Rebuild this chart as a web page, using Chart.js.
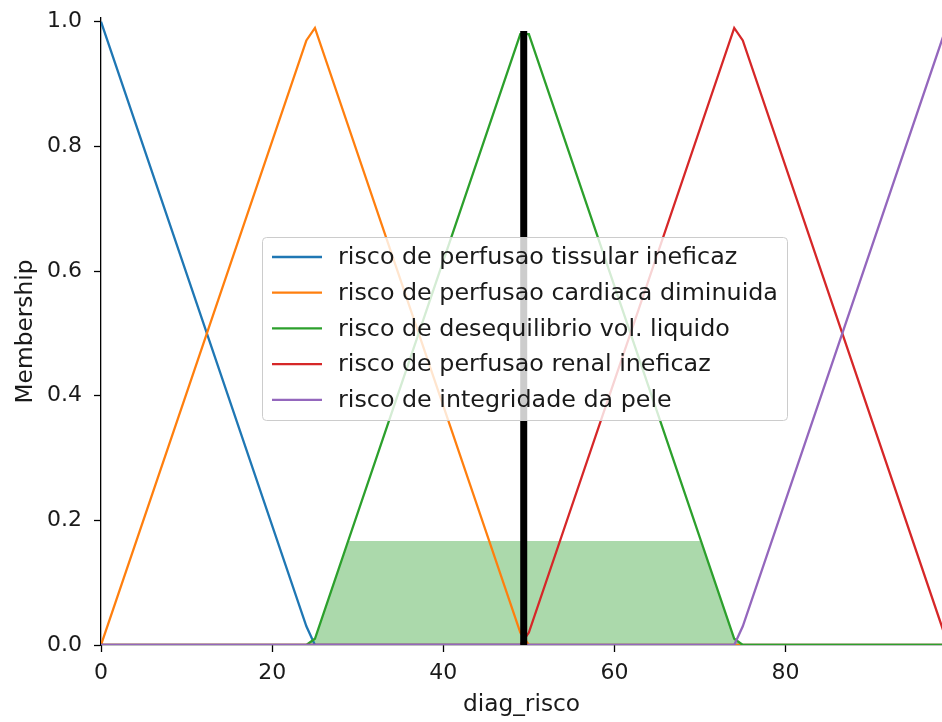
<!DOCTYPE html>
<html>
<head>
<meta charset="utf-8">
<script src="https://cdn.jsdelivr.net/npm/chart.js@4.4.1/dist/chart.umd.min.js"></script>
<style>
  html, body { margin: 0; padding: 0; background: #fff; overflow: hidden; }
  canvas { display: block; }
</style>
</head>
<body>
<canvas id="grafica" width="942" height="722"></canvas>
<script>
// termos de saida (diag_risco)
const nomes = [
  'risco de perfusao tissular ineficaz',
  'risco de perfusao cardiaca diminuida',
  'risco de desequilibrio vol. liquido',
  'risco de perfusao renal ineficaz',
  'risco de integridade da pele'
];
const cores = ['#1f77b4', '#ff7f0e', '#2ca02c', '#d62728', '#9467bd'];

// vertices
const tissularX = [0, 24, 25, 99];
const tissularY = [1, 0.03, 0, 0];
const cardiacaX = [0, 24, 25, 49, 50, 99];
const cardiacaY = [0, 0.97, 0.99, 0.02, 0, 0];
const desequilX = [0, 24, 25, 49, 50, 74, 75, 99];
const desequilY = [0, 0, 0.01, 0.98, 0.98, 0.01, 0, 0];
const renalX = [0, 49, 50, 74, 75, 99];
const renalY = [0, 0, 0.02, 0.99, 0.97, 0];
const peleX = [0, 74, 75, 99];
const peleY = [0, 0, 0.03, 1];

// area agregada (ativacao) e valor defuzzificado
const agregadoX = [0, 24, 25, 28, 29, 70, 71, 74, 75, 99];
const agregadoY = [0, 0, 0.01, 0.13, 0.167, 0.167, 0.13, 0.01, 0, 0];
const saidaX = [49.4, 49.4];
const saidaY = [0, 0.985];

const xTicks = [0, 20, 40, 60, 80];
const yTicks = [0, 0.2, 0.4, 0.6, 0.8, 1.0];

const pontos = (xs, ys) => xs.map((x, i) => ({ x: x, y: ys[i] }));
const series = [
  pontos(tissularX, tissularY),
  pontos(cardiacaX, cardiacaY),
  pontos(desequilX, desequilY),
  pontos(renalX, renalY),
  pontos(peleX, peleY)
];

const fonte = { family: 'DejaVu Sans', size: 22 };
const fonteTitulo = { family: 'DejaVu Sans', size: 23.3 };

const datasets = series.map((d, i) => ({
  label: nomes[i],
  data: d,
  borderColor: cores[i],
  borderWidth: 2.3,
  pointRadius: 0,
  tension: 0,
  fill: false,
  order: 5 - i
}));
datasets.push({
  label: 'agregado',
  data: pontos(agregadoX, agregadoY),
  borderWidth: 0,
  borderColor: 'rgba(0,0,0,0)',
  backgroundColor: 'rgba(44,160,44,0.4)',
  pointRadius: 0,
  fill: 'origin',
  order: 10
});
datasets.push({
  label: 'saida',
  data: pontos(saidaX, saidaY),
  borderColor: '#000',
  borderWidth: 7,
  borderCapStyle: 'butt',
  pointRadius: 0,
  fill: false,
  order: 0
});

const legendaBox = {
  id: 'legendaBox',
  afterDraw(chart) {
    const ctx = chart.ctx;
    ctx.save();
    ctx.beginPath();
    ctx.roundRect(262.5, 237.5, 525, 183, 4);
    ctx.fillStyle = 'rgba(255,255,255,0.8)';
    ctx.fill();
    ctx.strokeStyle = '#cccccc';
    ctx.lineWidth = 1;
    ctx.stroke();
    ctx.font = '23.8px "DejaVu Sans"';
    ctx.textBaseline = 'middle';
    nomes.forEach((nome, i) => {
      const y = 257 + i * 35.7;
      ctx.beginPath();
      ctx.moveTo(272, y);
      ctx.lineTo(322, y);
      ctx.strokeStyle = cores[i];
      ctx.lineWidth = 2.3;
      ctx.stroke();
      ctx.fillStyle = '#1a1a1a';
      ctx.fillText(nome, 338, y + 1);
    });
    ctx.restore();
  }
};

new Chart(document.getElementById('grafica'), {
  type: 'line',
  data: { datasets: datasets },
  options: {
    responsive: false,
    animation: false,
    devicePixelRatio: 1,
    layout: { padding: { top: 18, right: 0, left: 0, bottom: 0 } },
    plugins: {
      legend: { display: false },
      tooltip: { enabled: false }
    },
    scales: {
      x: {
        type: 'linear',
        min: 0,
        max: 98.28,
        afterBuildTicks: (s) => { s.ticks = xTicks.map(v => ({ value: v })); },
        afterFit: (s) => { s.height = 77; s.paddingLeft = 0; s.paddingRight = 0; },
        grid: { drawOnChartArea: false, drawTicks: true, tickLength: 7, tickWidth: 1.3, tickColor: '#000' },
        border: { display: true, color: '#000', width: 1.3 },
        ticks: { font: fonte, color: '#1a1a1a', padding: 8, maxRotation: 0 },
        title: { display: true, text: 'diag_risco', font: fonteTitulo, color: '#1a1a1a', padding: { top: 0, bottom: 3 } }
      },
      y: {
        min: 0,
        max: 1.006,
        afterBuildTicks: (s) => { s.ticks = yTicks.map(v => ({ value: v })); },
        afterFit: (s) => { s.width = 101; s.paddingTop = 0; s.paddingBottom = 0; },
        grid: { drawOnChartArea: false, drawTicks: true, tickLength: 7, tickWidth: 1.3, tickColor: '#000' },
        border: { display: true, color: '#000', width: 1.3 },
        ticks: { font: fonte, color: '#1a1a1a', padding: 12, callback: (v) => v.toFixed(1) },
        title: { display: true, text: 'Membership', font: fonteTitulo, color: '#1a1a1a', padding: { top: 12, bottom: 0 } }
      }
    }
  },
  plugins: [legendaBox]
});
</script>
</body>
</html>
